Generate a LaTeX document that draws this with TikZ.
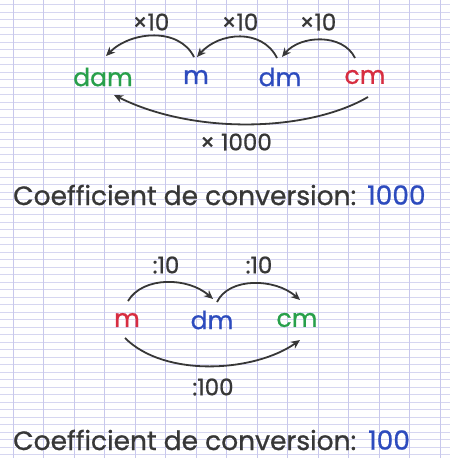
\documentclass[tikz,border=0pt]{standalone}
\usepackage{fontspec}
\setmainfont{Poppins}[FakeBold=0.8]
\usetikzlibrary{arrows.meta}

\definecolor{ink}{RGB}{55,55,55}
\definecolor{unitgreen}{RGB}{40,160,75}
\definecolor{unitblue}{RGB}{45,75,190}
\definecolor{unitred}{RGB}{215,45,65}
\definecolor{gridline}{RGB}{200,200,236}

\tikzset{
  unit/.style={font=\fontsize{25}{25}\selectfont, inner sep=0pt},
  factor/.style={font=\fontsize{23}{23}\selectfont, text=ink, inner sep=0pt},
  coef/.style={font=\fontsize{26.5}{26.5}\selectfont, text=ink, anchor=west, inner sep=0pt},
  conv/.style={draw=ink, line width=1.8pt, -{Stealth[length=9pt,width=8pt]}},
}

\begin{document}
\begin{tikzpicture}[x=1pt,y=-1pt]
\useasboundingbox (0,0) rectangle (450,458);
\fill[white] (0,0) rectangle (450,458);

% paper
\foreach \k in {0,...,60}
  \draw[gridline!75, line width=0.6pt] (0,4.5+7.5*\k) -- (450,4.5+7.5*\k);
\foreach \k in {0,...,14}
  \draw[gridline, line width=0.9pt] (13+30.5*\k,0) -- (13+30.5*\k,458);

% dam m dm cm
\node[unit, text=unitgreen] (dam) at (103,77) {dam};
\node[unit, text=unitblue] (m) at (196,77) {m};
\node[unit, text=unitblue] (dm) at (280,77) {dm};
\node[unit, text=unitred] (cm) at (365,77) {cm};

\node[factor] (f1) at (151,22) {×10};
\node[factor] (f2) at (240,22) {×10};
\node[factor] (f3) at (318,22) {×10};
\node[factor] (f4) at (236,142) {× 1000};

\draw[conv] ([xshift=-2pt,yshift=20pt]m.center) .. controls +(-15,-30) and +(25,-25) .. ([xshift=3pt,yshift=21pt]dam.center);
\draw[conv] ([xshift=-3pt,yshift=19pt]dm.center) .. controls +(-15,-30) and +(22,-25) .. ([xshift=1pt,yshift=20pt]m.center);
\draw[conv] ([xshift=-10pt,yshift=19pt]cm.center) .. controls +(-12,-25) and +(18,-22) .. ([xshift=2pt,yshift=20pt]dm.center);
\draw[conv] ([xshift=3pt,yshift=-20pt]cm.center) .. controls +(-60,35) and +(80,40) .. ([xshift=11pt,yshift=-18pt]dam.center);

\node[coef] (coef1) at (13,195) {Coefficient de conversion:};
\node[coef, text=unitblue] (val1) at (367,195) {1000};

%-------------------------------------
% m dm cm
\node[unit, text=unitred] (mB) at (127,320) {m};
\node[unit, text=unitblue] (dmB) at (212,320) {dm};
\node[unit, text=unitgreen] (cmB) at (297,320) {cm};

\node[factor] (d1) at (166,265) {:10};
\node[factor] (d2) at (259,265) {:10};
\node[factor] (d3) at (213,387) {:100};

\draw[conv] ([xshift=1pt,yshift=19pt]mB.center) .. controls +(15,-25) and +(-25,-22) .. ([xshift=1pt,yshift=21pt]dmB.center);
\draw[conv] ([xshift=5pt,yshift=18pt]dmB.center) .. controls +(12,-25) and +(-25,-22) .. ([xshift=3pt,yshift=20pt]cmB.center);
\draw[conv] ([xshift=-2pt,yshift=-18pt]mB.center) .. controls +(40,40) and +(-45,32) .. ([xshift=3pt,yshift=-20pt]cmB.center);

\node[coef] (coef2) at (13,440) {Coefficient de conversion:};
\node[coef, text=unitblue] (val2) at (368,440) {100};

\end{tikzpicture}
\end{document}
